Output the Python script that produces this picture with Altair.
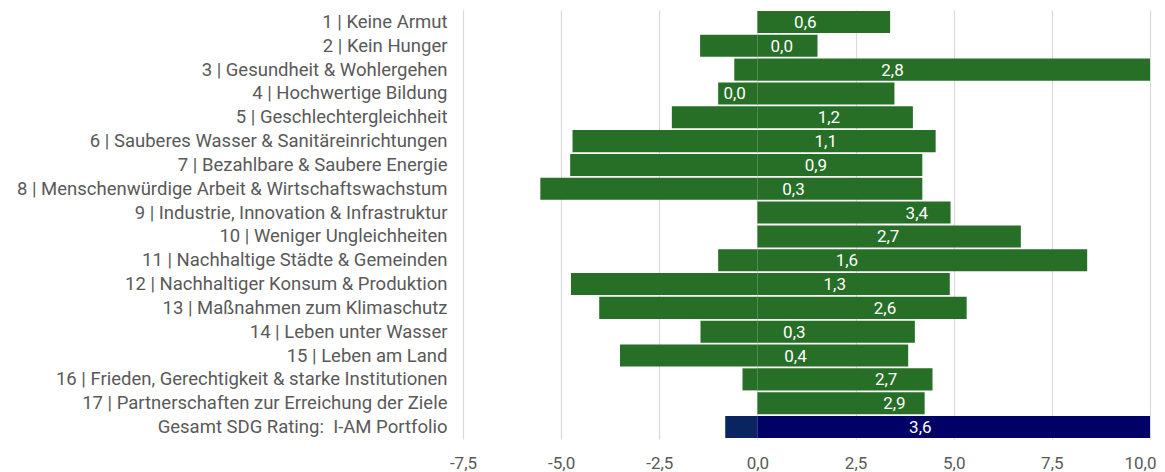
import altair as alt
import pandas as pd

categories = [
    "1 | Keine Armut",
    "2 | Kein Hunger",
    "3 | Gesundheit & Wohlergehen",
    "4 | Hochwertige Bildung",
    "5 | Geschlechtergleichheit",
    "6 | Sauberes Wasser & Sanitäreinrichtungen",
    "7 | Bezahlbare & Saubere Energie",
    "8 | Menschenwürdige Arbeit & Wirtschaftswachstum",
    "9 | Industrie, Innovation & Infrastruktur",
    "10 | Weniger Ungleichheiten",
    "11 | Nachhaltige Städte & Gemeinden",
    "12 | Nachhaltiger Konsum & Produktion",
    "13 | Maßnahmen zum Klimaschutz",
    "14 | Leben unter Wasser",
    "15 | Leben am Land",
    "16 | Frieden, Gerechtigkeit & starke Institutionen",
    "17 | Partnerschaften zur Erreichung der Ziele",
    "Gesamt SDG Rating:\u00a0 I-AM Portfolio",
]
negative = [0.0, -1.46, -0.59, -1.0, -2.18, -4.71, -4.77, -5.53, 0.0, 0.0,
            -1.0, -4.75, -4.03, -1.45, -3.50, -0.38, 0.0, -0.82]
positive = [3.38, 1.53, 10.0, 3.49, 3.96, 4.54, 4.20, 4.20, 4.92, 6.71,
            8.40, 4.90, 5.33, 4.01, 3.84, 4.46, 4.26, 10.0]
net = [0.6, 0.0, 2.8, 0.0, 1.2, 1.1, 0.9, 0.3, 3.4, 2.7,
       1.6, 1.3, 2.6, 0.3, 0.4, 2.7, 2.9, 3.6]
label_at = [1.22, 0.62, 3.44, -0.58, 1.82, 1.74, 1.49, 0.92, 4.06, 3.33,
            2.28, 1.97, 3.25, 0.94, 0.97, 3.28, 3.49, 4.15]
x_ticks = [-7.5, -5.0, -2.5, 0.0, 2.5, 5.0, 7.5, 10.0]

rows = []
for i, c in enumerate(categories):
    grp = "Gesamt" if c.startswith("Gesamt") else "SDG"
    if negative[i] < 0:
        rows.append({"cat": c, "start": negative[i], "end": 0.0, "kind": grp + "-neg"})
    rows.append({"cat": c, "start": 0.0, "end": positive[i], "kind": grp + "-pos"})
bars_df = pd.DataFrame(rows)

labels_df = pd.DataFrame({"cat": categories, "net": net, "pos": label_at})

FONT = "Roboto"
GRAY = "#595959"

x_scale = alt.Scale(domain=[-7.5, 10], nice=False, zero=False, clamp=True)
y_scale = alt.Scale(paddingInner=0.075, paddingOuter=0.04)

x_axis = alt.Axis(
    title=None, values=x_ticks, ticks=False, domain=False, format=".1f",
    grid=True, gridColor="#d9d9d9", gridWidth=1.2,
    labelFont=FONT, labelFontSize=17, labelColor=GRAY, labelPadding=16,
    labelFlush=False, labelOverlap=False,
    labelAlign={"condition": {"test": "datum.value >= 10", "value": "right"}, "value": "center"},
    labelOffset={"condition": {"test": "datum.value >= 10", "value": 6}, "value": 0},
)
y_axis = alt.Axis(
    title=None, ticks=False, domain=False, grid=False,
    labelFont=FONT, labelFontSize=18.5, labelColor=GRAY,
    labelPadding=16, labelLimit=0,
)

bars = alt.Chart(bars_df).mark_bar(strokeWidth=0).encode(
    x=alt.X("start:Q", scale=x_scale, axis=x_axis),
    x2="end:Q",
    y=alt.Y("cat:N", sort=categories, scale=y_scale, axis=y_axis),
    color=alt.Color(
        "kind:N",
        scale=alt.Scale(
            domain=["SDG-neg", "SDG-pos", "Gesamt-neg", "Gesamt-pos"],
            range=["#276e27", "#276e27", "#0a2460", "#000066"],
        ),
        legend=None,
    ),
)

texts = alt.Chart(labels_df).mark_text(
    font=FONT, fontSize=17, color="white", align="center", baseline="middle", dy=1
).encode(
    x=alt.X("pos:Q", scale=x_scale, axis=x_axis),
    y=alt.Y("cat:N", sort=categories, scale=y_scale, axis=y_axis),
    text=alt.Text("net:Q", format=".1f"),
)

chart = (
    alt.layer(bars, texts)
    .properties(
        width=687, height=429,
        autosize=alt.AutoSizeParams(type="none"),
        padding={"left": 455, "top": 2, "right": 6, "bottom": 40},
    )
    .configure_view(stroke=None)
)

chart.save(
    "out.html",
    embed_options={
        "renderer": "svg",
        "actions": False,
        "formatLocale": {
            "decimal": ",",
            "thousands": ".",
            "grouping": [3],
            "currency": ["", " €"],
            "minus": "-",
        },
    },
)
